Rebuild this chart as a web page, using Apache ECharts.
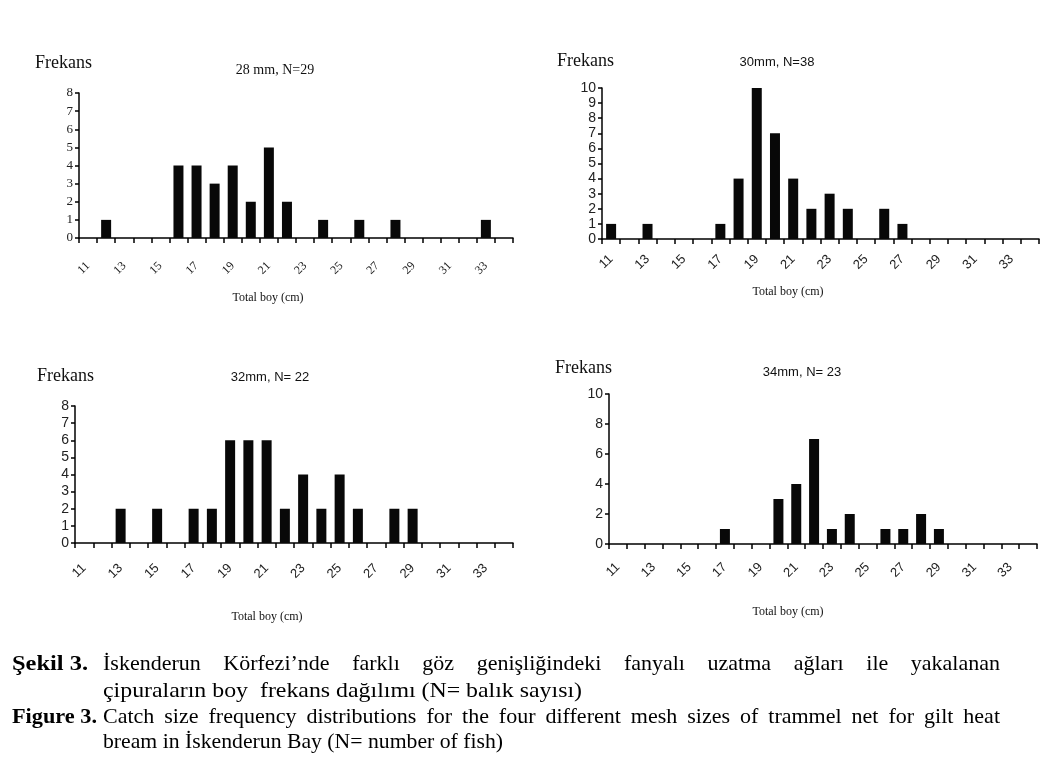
<!DOCTYPE html>
<html>
<head>
<meta charset="utf-8">
<script src="https://cdn.jsdelivr.net/npm/echarts@6/dist/echarts.min.js"></script>
<style>
  html, body { margin: 0; padding: 0; background: #fff; }
  #chart { width: 1056px; height: 757px; }
</style>
</head>
<body>
<div id="chart"></div>
<script>
// boy sınıfları (cm)
const lengths = ['11','12','13','14','15','16','17','18','19','20','21','22',
                 '23','24','25','26','27','28','29','30','31','32','33','34'];

// frekanslar, her göz genişliği için
const freq28 = [0,1,0,0,0,4,4,3,4,2,5,2,0,1,0,1,0,1,0,0,0,0,1,0];
const freq30 = [1,0,1,0,0,0,1,4,10,7,4,2,3,2,0,2,1,0,0,0,0,0,0,0];
const freq32 = [0,0,2,0,2,0,2,2,6,6,6,2,4,2,4,2,0,2,2,0,0,0,0,0];
const freq34 = [0,0,0,0,0,0,1,0,0,3,4,7,1,2,0,1,1,2,1,0,0,0,0,0];

const panelTitles = ['28 mm, N=29', '30mm, N=38', '32mm, N= 22', '34mm, N= 23'];
const yMax = [8, 10, 8, 10];
const yStep = [1, 1, 1, 2];

const captionLines = [
  'İskenderun Körfezi’nde farklı göz genişliğindeki fanyalı uzatma ağları ile yakalanan',
  'çipuraların boy  frekans dağılımı (N= balık sayısı)',
  'Catch size frequency distributions for the four different mesh sizes of trammel net for gilt heat',
  'bream in İskenderun Bay (N= number of fish)'
];

const SERIF = '"Liberation Serif", "DejaVu Serif", serif';
const SANS = '"Liberation Sans", Arial, sans-serif';

// panel layout
const panels = [
  { left: 79,  top: 93,  width: 434, height: 145, font: SERIF, ySize: 13, xSize: 12, xMargin: 26, titleX: 275, titleY: 70,  titleFont: 'normal 14px ' + SERIF, frekX: 35,  frekY: 63,  nameX: 268, nameY: 298 },
  { left: 602, top: 88,  width: 437, height: 151, font: SANS,  ySize: 14, xSize: 13, xMargin: 18, titleX: 777, titleY: 62,  titleFont: 'normal 13px ' + SANS,  frekX: 557, frekY: 61,  nameX: 788, nameY: 292 },
  { left: 75,  top: 406, width: 438, height: 137, font: SANS,  ySize: 14, xSize: 13, xMargin: 23, titleX: 270, titleY: 377, titleFont: 'normal 13px ' + SANS,  frekX: 37,  frekY: 376, nameX: 267, nameY: 617 },
  { left: 609, top: 394, width: 428, height: 150, font: SANS,  ySize: 14, xSize: 13, xMargin: 21, titleX: 802, titleY: 372, titleFont: 'normal 13px ' + SANS,  frekX: 555, frekY: 368, nameX: 788, nameY: 612 }
];
const allFreq = [freq28, freq30, freq32, freq34];

const chart = echarts.init(document.getElementById('chart'));

const grid = [], xAxis = [], yAxis = [], series = [], graphic = [];

panels.forEach((p, i) => {
  grid.push({ left: p.left, top: p.top, width: p.width, height: p.height });
  xAxis.push({
    type: 'category',
    gridIndex: i,
    data: lengths,
    boundaryGap: true,
    axisLine: { lineStyle: { color: '#000', width: 1.5 } },
    axisTick: { show: true, interval: 0, length: 5, lineStyle: { color: '#000', width: 1.5 } },
    axisLabel: {
      interval: 1, rotate: 45, margin: p.xMargin,
      fontFamily: p.font, fontSize: p.xSize, color: '#222'
    },
    splitLine: { show: false }
  });
  yAxis.push({
    type: 'value',
    gridIndex: i,
    min: 0, max: yMax[i], interval: yStep[i],
    axisLine: { show: true, lineStyle: { color: '#000', width: 1.5 } },
    axisTick: { show: true, length: 4, lineStyle: { color: '#000', width: 1.5 } },
    axisLabel: { margin: 6, fontFamily: p.font, fontSize: p.ySize, color: '#222' },
    splitLine: { show: false }
  });
  series.push({
    type: 'bar',
    xAxisIndex: i, yAxisIndex: i,
    data: allFreq[i],
    barWidth: 10,
    itemStyle: { color: '#080808' },
    silent: true
  });
  graphic.push(
    { type: 'text', x: p.frekX, y: p.frekY,
      style: { text: 'Frekans', font: 'normal 18px ' + SERIF, fill: '#111', align: 'left', verticalAlign: 'middle' } },
    { type: 'text', x: p.titleX, y: p.titleY,
      style: { text: panelTitles[i], font: p.titleFont, fill: '#111', align: 'center', verticalAlign: 'middle' } },
    { type: 'text', x: p.nameX, y: p.nameY,
      style: { text: 'Total boy (cm)', font: 'normal 12px ' + SERIF, fill: '#111', align: 'center', verticalAlign: 'middle' } }
  );
});

// alt yazı (caption)
const capFont = 'normal 22px ' + SERIF;
const boldFont = 'bold 22px ' + SERIF;
const ctx = document.createElement('canvas').getContext('2d');
const capLeft = 103, capRight = 1000;
const capY = [664, 691, 717, 742];
const justify = [true, false, true, false];
const lineEnd = [1000, 582, 1000, 503];

function stretched(text, font, x, y, targetW) {
  ctx.font = font;
  const w = ctx.measureText(text).width;
  return { type: 'text', x: x, y: y, scaleX: targetW / w,
    style: { text: text, font: font, fill: '#000', verticalAlign: 'middle' } };
}

graphic.push(
  stretched('Şekil 3.', boldFont, 12, capY[0], 76),
  stretched('Figure 3.', boldFont, 12, capY[2], 85)
);

captionLines.forEach((line, k) => {
  if (!justify[k]) {
    graphic.push(stretched(line, capFont, capLeft, capY[k], lineEnd[k] - capLeft));
    return;
  }
  ctx.font = capFont;
  const words = line.split(' ');
  const widths = words.map(w => ctx.measureText(w).width);
  const total = widths.reduce((a, b) => a + b, 0);
  const gap = (capRight - capLeft - total) / (words.length - 1);
  let x = capLeft;
  words.forEach((w, j) => {
    graphic.push({ type: 'text', x: x, y: capY[k],
      style: { text: w, font: capFont, fill: '#000', verticalAlign: 'middle' } });
    x += widths[j] + gap;
  });
});

chart.setOption({
  animation: false,
  backgroundColor: '#fff',
  grid, xAxis, yAxis, series, graphic
});
</script>
</body>
</html>
